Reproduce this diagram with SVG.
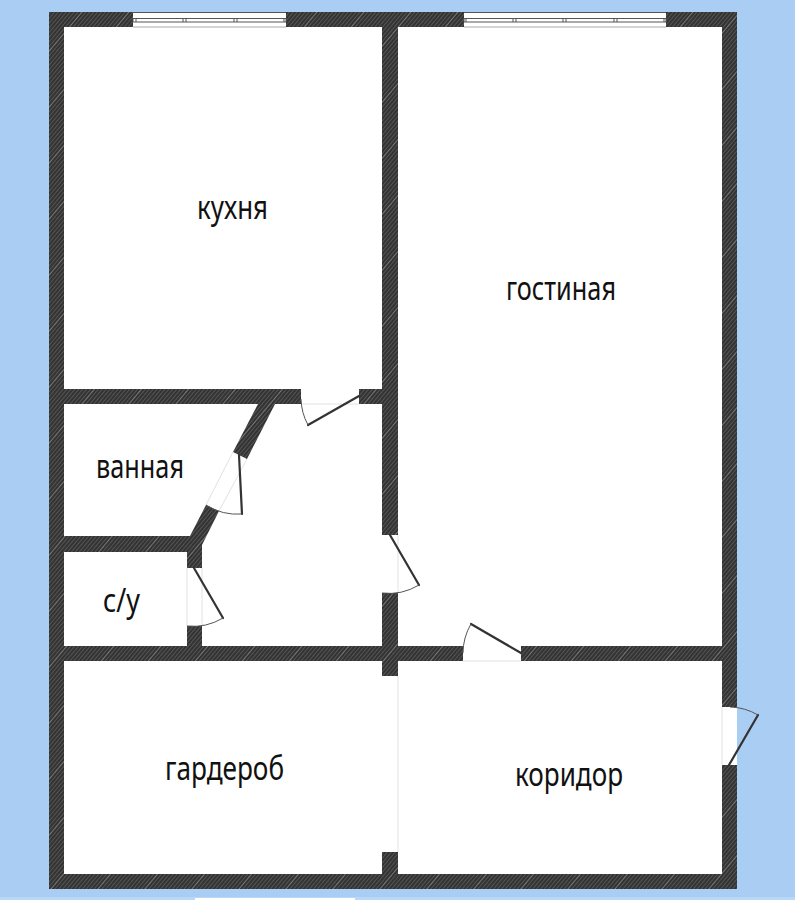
<svg xmlns="http://www.w3.org/2000/svg" width="795" height="900" viewBox="0 0 795 900">
<style>
.lbl{font-family:"Noto Sans","Open Sans",sans-serif;font-size:33px;fill:#111}
.door{fill:none;stroke:#333;stroke-width:2.200;stroke-linecap:round}
.arc{fill:none;stroke:#555;stroke-width:1}
.faint{fill:none;stroke:#e2e2e2;stroke-width:1}
.win{fill:#fff;stroke:#555;stroke-width:1}
</style>
<defs>
<pattern id="hatch" width="36" height="36" patternUnits="userSpaceOnUse" patternTransform="rotate(40)">
<rect width="36" height="36" fill="#333"/>
<path d="M1.500 0V36M4.500 0V36M7.500 0V36M10.500 0V36M13.500 0V36M16.500 0V36M19.500 0V36M22.500 0V36M25.500 0V36M28.500 0V36M31.500 0V36" stroke="#555" stroke-width="1" fill="none"/>
<path d="M34.500 0V36" stroke="#7a7a7a" stroke-width="1" fill="none"/>
</pattern>
</defs>
<rect width="795" height="900" fill="#a9cdf3"/>
<rect y="897" width="795" height="3" fill="#b9d7f6"/>
<rect x="195" y="898" width="160" height="2" fill="#fff"/>
<rect x="64" y="27" width="658" height="847" fill="#fff"/>
<rect x="722" y="707" width="15" height="58" fill="#fff"/>
<g id="walls" fill="url(#hatch)">
<rect x="49" y="12" width="688" height="15"/>
<rect x="49" y="874" width="688" height="15"/>
<rect x="49" y="12" width="15" height="877"/>
<rect x="722" y="12" width="15" height="695"/>
<rect x="722" y="765" width="15" height="124"/>
<rect x="382" y="27" width="16" height="508"/>
<rect x="382" y="593" width="16" height="83"/>
<rect x="382" y="852" width="16" height="22"/>
<rect x="64" y="389" width="237" height="15"/>
<rect x="359" y="389" width="23" height="15"/>
<rect x="64" y="646" width="399" height="15"/>
<rect x="521" y="646" width="201" height="15"/>
<rect x="64" y="536" width="126" height="16"/>
<rect x="187" y="552" width="15" height="16"/>
<rect x="187" y="626" width="15" height="20"/>
<polygon points="258,404 275,404 247,459 233,452"/>
<polygon points="206,505 219,511 202,545 202,552 187,552 187,537 190,536"/>
</g>
<g id="window-kitchen">
<rect x="133" y="12" width="153" height="15" fill="#fff"/>
<rect x="133" y="18.500" width="153" height="3.500" class="win"/>
<path d="M136 18.500V22M183 18.500V22M186 18.500V22M234 18.500V22M237 18.500V22M284 18.500V22" class="arc"/>
<path d="M133 27H286" stroke="#aaa" fill="none"/>
<path d="M133 12.500H286" stroke="#555" fill="none"/>
</g>
<g id="window-living">
<rect x="464" y="12" width="202" height="15" fill="#fff"/>
<rect x="464" y="18.500" width="202" height="3.500" class="win"/>
<path d="M466 18.500V22M513 18.500V22M516 18.500V22M563 18.500V22M566 18.500V22M614 18.500V22M617 18.500V22M664 18.500V22" class="arc"/>
<path d="M464 27H666" stroke="#aaa" fill="none"/>
<path d="M464 12.500H666" stroke="#555" fill="none"/>
</g>
<g id="door-kitchen">
<path d="M301 404H359" class="faint"/>
<path d="M359 396L308 425" class="door"/>
<path d="M308 425A58 58 0 0 1 301 399" class="arc"/>
</g>
<g id="door-bath">
<path d="M233 452L206 505M247 459L219 511" class="faint"/>
<path d="M239 455L242 514" class="door"/>
<path d="M242 514A58 58 0 0 1 206 505" class="arc"/>
</g>
<g id="door-wc">
<path d="M187 568V626M202 568V626" class="faint"/>
<path d="M194 568L223 618" class="door"/>
<path d="M223 618A58 58 0 0 1 187 626" class="arc"/>
</g>
<g id="door-living">
<path d="M398 535V593" class="faint"/>
<path d="M390 535L419 585" class="door"/>
<path d="M419 585A58 58 0 0 1 382 593" class="arc"/>
</g>
<g id="door-corridor">
<path d="M463 661H521" class="faint"/>
<path d="M521 653L471 624" class="door"/>
<path d="M471 624A58 58 0 0 0 463 653" class="arc"/>
</g>
<g id="door-entrance">
<path d="M722 707V765" class="faint"/>
<path d="M729 765L758 715" class="door"/>
<path d="M758 715A58 58 0 0 0 730 707" class="arc"/>
</g>
<g id="opening-wardrobe">
<path d="M398 676V852" class="faint"/>
</g>
<g id="room-kitchen"><text class="lbl" x="197" y="219" textLength="71" lengthAdjust="spacingAndGlyphs">кухня</text></g>
<g id="room-living"><text class="lbl" x="506" y="300" textLength="110" lengthAdjust="spacingAndGlyphs">гостиная</text></g>
<g id="room-bath"><text class="lbl" x="96" y="478" textLength="88" lengthAdjust="spacingAndGlyphs">ванная</text></g>
<g id="room-wc"><text class="lbl" x="103" y="612" textLength="37" lengthAdjust="spacingAndGlyphs">с/у</text></g>
<g id="room-wardrobe"><text class="lbl" x="165" y="780" textLength="119" lengthAdjust="spacingAndGlyphs">гардероб</text></g>
<g id="room-corridor"><text class="lbl" x="515" y="786" textLength="108" lengthAdjust="spacingAndGlyphs">коридор</text></g>
</svg>
